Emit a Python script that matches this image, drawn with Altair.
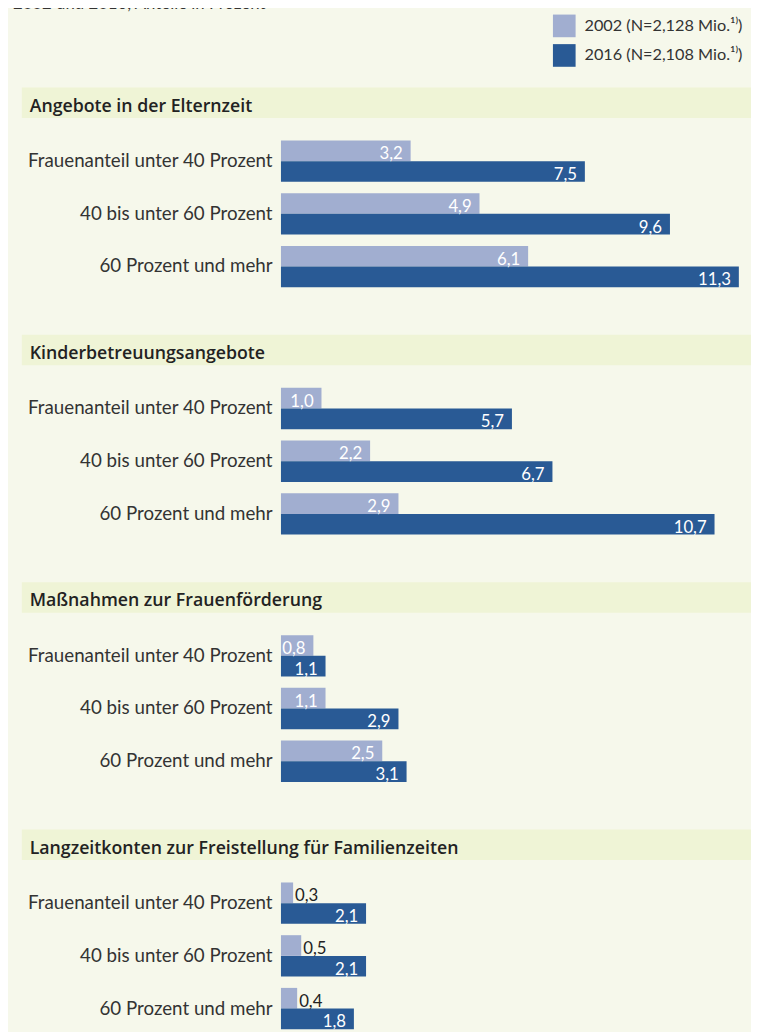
import altair as alt
import pandas as pd

FONT = "Lato"
HFONT = "Open Sans"
BG = "#f6f8eb"
BAND = "#eff4d6"
LIGHT = "#a1aed0"
DARK = "#295a95"

subtitle = "2002 und 2016, Anteile in Prozent"
sections = [
    "Angebote in der Elternzeit",
    "Kinderbetreuungsangebote",
    "Maßnahmen zur Frauenförderung",
    "Langzeitkonten zur Freistellung für Familienzeiten",
]
categories = ["Frauenanteil unter 40 Prozent", "40 bis unter 60 Prozent", "60 Prozent und mehr"]
years = ["2002 (N=2,128 Mio.¹⁾)", "2016 (N=2,108 Mio.¹⁾)"]

elternzeit_2002 = [3.2, 4.9, 6.1]
elternzeit_2016 = [7.5, 9.6, 11.3]
kinderbetreuung_2002 = [1.0, 2.2, 2.9]
kinderbetreuung_2016 = [5.7, 6.7, 10.7]
frauenfoerderung_2002 = [0.8, 1.1, 2.5]
frauenfoerderung_2016 = [1.1, 2.9, 3.1]
langzeitkonten_2002 = [0.3, 0.5, 0.4]
langzeitkonten_2016 = [2.1, 2.1, 1.8]

series = [
    (elternzeit_2002, elternzeit_2016),
    (kinderbetreuung_2002, kinderbetreuung_2016),
    (frauenfoerderung_2002, frauenfoerderung_2016),
    (langzeitkonten_2002, langzeitkonten_2016),
]


def make_df(v02, v16):
    rows = []
    for cat, a, b in zip(categories, v02, v16):
        for yr, v in ((years[0], a), (years[1], b)):
            rows.append({"category": cat, "year": yr, "value": v,
                         "label": f"{v:.1f}".replace(".", ",")})
    return pd.DataFrame(rows)


x_enc = alt.X("value:Q", scale=alt.Scale(domain=[0, 11.6], nice=False, zero=True), axis=None)
y_enc = alt.Y(
    "category:N", sort=categories,
    scale=alt.Scale(paddingInner=0.215, paddingOuter=0.1075),
    axis=alt.Axis(title=None, domain=False, ticks=False, labelPadding=9,
                  labelFontSize=19, labelColor="#333333", labelFont=FONT, labelLimit=400),
)
yoff_enc = alt.YOffset("year:N", sort=years, scale=alt.Scale(paddingInner=0, paddingOuter=0))


def panel(i):
    df = make_df(*series[i])
    base = alt.Chart(df)
    bars = base.mark_bar().encode(
        x=x_enc, y=y_enc, yOffset=yoff_enc,
        color=alt.Color(
            "year:N",
            scale=alt.Scale(domain=years, range=[LIGHT, DARK]),
            legend=alt.Legend(
                title=None, orient="none", legendX=276, legendY=-122,
                symbolType="square", symbolSize=529, symbolStrokeWidth=0,
                symbolOpacity=1, labelFontSize=16.5, labelFont=FONT, labelLimit=400,
                labelColor="#333333", labelOffset=9, rowPadding=7, padding=0,
            ),
        ),
    )
    inside = base.transform_filter("datum.value >= 0.7").mark_text(
        align="right", baseline="alphabetic", dx=-8, dy=8.5, fontSize=17,
        font=FONT, color="white",
    ).encode(x=x_enc, y=y_enc, yOffset=yoff_enc, text="label:N")
    outside = base.transform_filter("datum.value < 0.7").mark_text(
        align="left", baseline="alphabetic", dx=2, dy=8.5, fontSize=17,
        font=FONT, color="#222222",
    ).encode(x=x_enc, y=y_enc, yOffset=yoff_enc, text="label:N")

    hdr_df = pd.DataFrame({"section": [sections[i]]})
    band = alt.Chart(hdr_df).mark_rect(color=BAND).encode(
        x=alt.value(-263), x2=alt.value("width"), y=alt.value(-48), y2=alt.value(-17)
    )
    htext = alt.Chart(hdr_df).mark_text(
        align="left", baseline="alphabetic", fontSize=18, fontWeight=600,
        font=HFONT, color="#222222",
    ).encode(x=alt.value(-255), y=alt.value(-23.5), text="section:N")
    layers = [band, htext, bars, inside, outside]
    if i == 0:
        sub_df = pd.DataFrame({"t": [subtitle]})
        sub = alt.Chart(sub_df).mark_text(
            align="left", baseline="alphabetic", fontSize=17, font=FONT, color="#333333",
        ).encode(x=alt.value(-272), y=alt.value(-128), text="t:N")
        layers = [sub] + layers
    return alt.layer(*layers).properties(width=477, height=160.5)


chart = alt.vconcat(*[panel(i) for i in range(4)], spacing=90, bounds="flush").properties(
    background=BG,
    padding={"top": -21, "left": 5, "right": 0, "bottom": 0},
).configure_view(stroke=None)

chart.save("out.html", embed_options={"renderer": "svg", "actions": False})
